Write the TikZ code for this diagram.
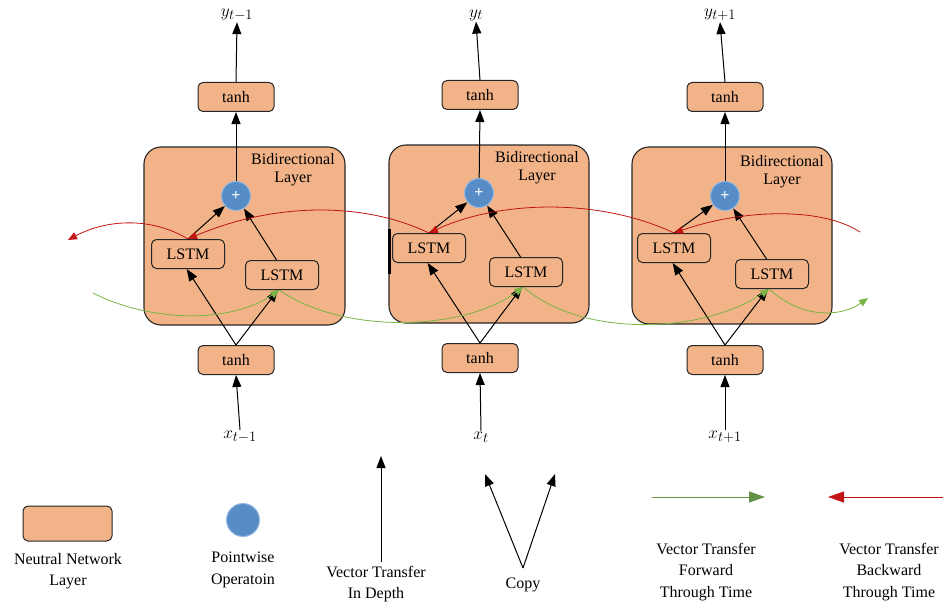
\documentclass[tikz,border=0pt]{standalone}
\usepackage{fontspec}
\setmainfont{Liberation Serif}
\usetikzlibrary{arrows.meta}
\definecolor{peach}{RGB}{241,179,135}
\definecolor{pwblue}{RGB}{88,140,199}
\definecolor{pwedge}{RGB}{150,185,225}
\definecolor{fwgreen}{RGB}{120,180,70}
\definecolor{fwdark}{RGB}{100,145,70}
\definecolor{bwred}{RGB}{195,20,20}
\begin{document}
\begin{tikzpicture}[x=1pt,y=-1pt,
  font=\fontsize{16}{20}\selectfont,
  nnbox/.style={draw=black!85, line width=1pt, fill=peach, rounded corners=5pt,
    minimum width=76pt, minimum height=29pt, inner sep=0pt},
  lstmbox/.style={nnbox, minimum width=73pt, minimum height=29pt},
  blockbox/.style={draw=black!85, line width=1.1pt, fill=peach, rounded corners=17pt,
    inner sep=0pt},
  pw/.style={circle, fill=pwblue, draw=pwedge, line width=1pt, minimum size=29pt, inner sep=0pt},
  pwplus/.style={pw, text=white, font=\fontsize{16}{16}\selectfont\bfseries},
  lbl/.style={inner sep=1pt, font=\fontsize{19}{20}\selectfont},
  arr/.style={line width=1pt, -{Triangle[length=12pt,width=9pt]}},
  redarr/.style={draw=bwred, line width=0.8pt, -{Triangle[length=9pt,width=7.5pt]}, bwred},
  grnarr/.style={draw=fwgreen, line width=0.8pt, -{Triangle[length=9pt,width=7.5pt]}, fwgreen},
  legtxt/.style={align=center, font=\fontsize{16}{21.5}\selectfont, inner sep=0pt}
]
\useasboundingbox (0,0) rectangle (946,602);

% ---- bidirectional blocks
\node[blockbox, minimum width=201pt, minimum height=178pt] (B1) at (244.5,236) {};
\node[blockbox, minimum width=200pt, minimum height=178pt] (B2) at (489,234) {};
\node[blockbox, minimum width=200pt, minimum height=177pt] (B3) at (732,235.5) {};

\node[align=center, inner sep=0pt, font=\fontsize{16}{18}\selectfont] (BL1) at (293,170) {Bidirectional\\Layer};
\node[align=center, inner sep=0pt, font=\fontsize{16}{18}\selectfont] (BL2) at (537,168) {Bidirectional\\Layer};
\node[align=center, inner sep=0pt, font=\fontsize{16}{18}\selectfont] (BL3) at (782,172) {Bidirectional\\Layer};

% ---- LSTM boxes
\node[lstmbox] (L1) at (188,254) {LSTM};
\node[lstmbox] (R1) at (282,275) {LSTM};
\node[lstmbox] (L2) at (429,248) {LSTM};
\node[lstmbox] (R2) at (526,272) {LSTM};
\node[lstmbox] (L3) at (674,248) {LSTM};
\node[lstmbox] (R3) at (772,274) {LSTM};

% ---- pointwise circles
\node[pwplus] (P1) at (236,196) {+};
\node[pwplus] (P2) at (479,193) {+};
\node[pwplus] (P3) at (725,196) {+};

% ---- tanh boxes
\node[nnbox] (T1) at (236,97) {tanh};
\node[nnbox] (T2) at (480,95) {tanh};
\node[nnbox] (T3) at (725,97) {tanh};
\node[nnbox] (H1) at (236,360) {tanh};
\node[nnbox] (H2) at (480,358) {tanh};
\node[nnbox] (H3) at (725,360) {tanh};

% ---- labels
\node[lbl] (Y1) at (237,15) {$y_{t-1}$};
\node[lbl] (Y2) at (476,15) {$y_{t}$};
\node[lbl] (Y3) at (720,15) {$y_{t+1}$};
\node[lbl] (X1) at (240,437) {$x_{t-1}$};
\node[lbl] (X2) at (481,437) {$x_{t}$};
\node[lbl] (X3) at (725,437) {$x_{t+1}$};

% ---- vertical flows
\foreach \i in {1,2,3}{
  \draw[arr] (X\i.north) -- (H\i.south);
  \draw[arr] (H\i.north) -- (L\i.-95);
  \draw[arr] (H\i.north) -- (R\i.-105);
  \draw[arr] (L\i.north) -- (P\i);
  \draw[arr] (R\i.110) -- (P\i);
  \draw[arr] (P\i) -- (T\i.south);
  \draw[arr] (T\i.north) -- (Y\i.south);
}

% ---- odd black bar beside middle LSTM
\draw[line width=3pt] (389,229) -- (389,274);

% ---- backward (red) through time
\coordinate (RS) at (860,232);
\coordinate (RE) at (68,240);
\draw[redarr] (RS) .. controls (820,206) and (740,210) .. (L3.north);
\draw[redarr] (L3.north) .. controls (600,198) and (500,200) .. (L2.north);
\draw[redarr] (L2.north) .. controls (360,200) and (270,204) .. (L1.north);
\draw[redarr] (L1.north) .. controls (150,216) and (105,220) .. (RE);

% ---- forward (green) through time
\coordinate (GS) at (93,293);
\coordinate (GE) at (868,298);
\draw[grnarr] (GS) .. controls (150,322) and (230,324) .. (R1.-100);
\draw[grnarr] (R1.-100) .. controls (340,333) and (460,333) .. (R2.-100);
\draw[grnarr] (R2.-100) .. controls (580,337) and (700,335) .. (R3.-100);
\draw[grnarr] (R3.-100) .. controls (800,318) and (840,318) .. (GE);

% ---- legend
\node[nnbox, minimum width=89pt, minimum height=35pt] (LgBox) at (67.5,523.5) {};
\node[legtxt] (LgBoxT) at (68,571) {Neutral Network\\Layer};
\node[pw, minimum size=33pt] (LgPw) at (243,520) {};
\node[legtxt] (LgPwT) at (243,570) {Pointwise\\Operatoin};

\coordinate (VDb) at (381,562);
\coordinate (VDt) at (381,456);
\draw[arr] (VDb) -- (VDt);
\node[legtxt] (LgVD) at (376,584) {Vector Transfer\\In Depth};

\coordinate (CpB) at (523,568);
\coordinate (CpL) at (485,474);
\coordinate (CpR) at (555,474);
\draw[arr] (CpB) -- (CpL);
\draw[arr] (CpB) -- (CpR);
\node[legtxt] (LgCp) at (523,585) {Copy};

\coordinate (FwA) at (652,497);
\coordinate (FwB) at (765,497);
\draw[draw=fwdark, line width=1pt, -{Triangle[length=16pt,width=11pt]}, fwdark] (FwA) -- (FwB);
\node[legtxt] (LgFw) at (706,572) {Vector Transfer\\Forward\\Through Time};

\coordinate (BwA) at (943,497);
\coordinate (BwB) at (828,497);
\draw[draw=bwred, line width=1pt, -{Triangle[length=16pt,width=11pt]}, bwred] (BwA) -- (BwB);
\node[legtxt] (LgBw) at (889,572) {Vector Transfer\\Backward\\Through Time};
\end{tikzpicture}
\end{document}
